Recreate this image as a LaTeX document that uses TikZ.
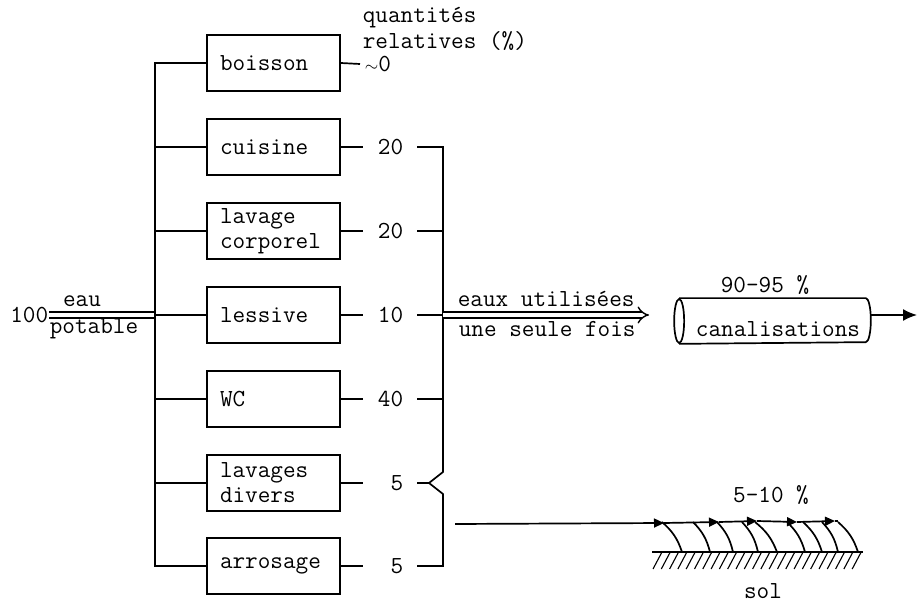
\documentclass[tikz,border=0pt]{standalone}
\usepackage{fontspec}
\usetikzlibrary{arrows.meta}

\begin{document}
\begin{tikzpicture}[
    x=1pt, y=-1pt,
    line width=1.7pt,
    every node/.style={font=\fontsize{24.5}{25}\selectfont\ttfamily},
    usage/.style={rectangle, draw, minimum height=56pt, text width=107pt, inner xsep=13pt, inner ysep=0pt, align=left},
    qty/.style={anchor=east, text width=26pt, inner xsep=13pt, align=right},
    lbl/.style={inner sep=0pt},
    dbl/.style={double, double distance=4.5pt, line width=1.4pt},
    arrow/.style={-{Latex[length=14pt, width=12pt]}},
    soil/.style={-{Triangle[length=10pt, width=9pt]}},
]
\useasboundingbox (0,0) rectangle (919,604);

% usages de l'eau
\node[usage] (boisson)  at (273.5, 63)  {boisson};
\node[usage] (cuisine)  at (273.5, 147) {cuisine};
\node[usage] (corporel) at (273.5, 231) {lavage\\corporel};
\node[usage] (lessive)  at (273.5, 315) {lessive};
\node[usage] (wc)       at (273.5, 399) {WC};
\node[usage] (divers)   at (273.5, 483) {lavages\\divers};
\node[usage] (arrosage) at (273.5, 566) {arrosage};

% quantites relatives
\node[lbl, anchor=base west] (quant) at (362, 23) {quantités};
\node[lbl, anchor=base west] (rel)   at (362, 49) {relatives (\%)};
\node[lbl, anchor=west, inner xsep=4pt] (q1) at (360, 64) {{\fontsize{17}{17}\selectfont$\sim$}0};
\node[qty] (q2) at (417, 147) {20};
\node[qty] (q3) at (417, 231) {20};
\node[qty] (q4) at (417, 315) {10};
\node[qty] (q5) at (417, 399) {40};
\node[qty] (q6) at (417, 483) {5};
\node[qty] (q7) at (417, 566) {5};

\draw (boisson.east)  -- (q1.west);
\draw (cuisine.east)  -- (q2.west);
\draw (corporel.east) -- (q3.west);
\draw (lessive.east)  -- (q4.west);
\draw (wc.east)       -- (q5.west);
\draw (divers.east)   -- (q6.west);
\draw (arrosage.east) -- (q7.west);

% entree eau potable
\node[lbl, anchor=east] (cent) at (49, 315) {100};
\node[lbl, anchor=base] (eau) at (82, 307) {eau};
\node[lbl, anchor=base] (potable) at (94, 334) {potable};
\coordinate (bus) at (155, 566);
\draw[dbl] (cent.east) -- (lessive.west -| bus);
\draw (boisson.west) -| (bus) -- (arrosage.west);
\draw (cuisine.west)  -- (cuisine.west -| bus);
\draw (corporel.west) -- (corporel.west -| bus);
\draw (lessive.west)  -- (lessive.west -| bus);
\draw (wc.west)       -- (wc.west -| bus);
\draw (divers.west)   -- (divers.west -| bus);

% accolade
\coordinate (brk)   at (443, 0);
\coordinate (ntop)  at (443, 472);
\coordinate (notch) at (429, 483);
\coordinate (nbot)  at (443, 494);
\draw (q2.east) -- (q2.east -| brk) -- (ntop) -- (notch) -- (nbot) -- (q7.east -| brk) -- (q7.east);
\draw (q3.east) -- (q3.east -| brk);
\draw (q4.east) -- (q4.east -| brk);
\draw (q5.east) -- (q5.east -| brk);
\draw (q6.east) -- (notch);

% eaux utilisees
\coordinate (eauxend) at (649, 315);
\draw[dbl, -{Implies}] (q4.east -| brk) -- (eauxend);
\node[lbl, anchor=base west] (eaux) at (457, 307) {eaux utilisées};
\node[lbl, anchor=base west] (fois) at (458, 337) {une seule fois};

% canalisations
\node[minimum width=195pt, minimum height=44pt, inner sep=0pt] (canal) at (772.5, 321) {};
\draw ([xshift=5pt]canal.north west) -- ([xshift=-5pt]canal.north east)
    arc[start angle=90, end angle=-90, x radius=5pt, y radius=22pt] -- ([xshift=5pt]canal.south west);
\draw ([xshift=5pt]canal.west) ellipse [x radius=5pt, y radius=22pt];
\node[lbl, anchor=base] (canaltxt) at (778, 337) {canalisations};
\node[lbl, anchor=base] (pcanal) at (765, 293) {90-95 \%};
\coordinate (canalout) at (917, 315);
\draw[arrow] (canal.east |- eauxend) -- (canalout);

% infiltration dans le sol
\coordinate (s0) at (455, 524);
\coordinate (s1) at (664, 523);
\coordinate (s2) at (719, 522);
\coordinate (s3) at (757, 521);
\coordinate (s4) at (797, 522);
\coordinate (s5) at (835, 521);
\draw[soil] (s0) -- (s1);
\draw[soil] (s1) -- (s2);
\draw[soil] (s2) -- (s3);
\draw[soil] (s3) -- (s4);
\draw[soil] (s4) -- (s5);
\draw (s5) -- (838, 521);
\foreach \a/\b in {662/682, 693/710, 717/733, 742/758, 755/777, 787/805, 803/822, 822/838, 838/858}
    \draw (\a, 522) to[bend left=15] (\b, 552);
\draw (652, 552) -- (863, 552);
\foreach \x in {662, 670.3, ..., 862}
    \draw[line width=1.1pt] (\x, 552) -- ++(-9, 17);
\node[lbl, anchor=base] (psol) at (771, 502) {5-10 \%};
\node[lbl, anchor=base] (sol) at (763, 598) {sol};

\end{tikzpicture}
\end{document}
